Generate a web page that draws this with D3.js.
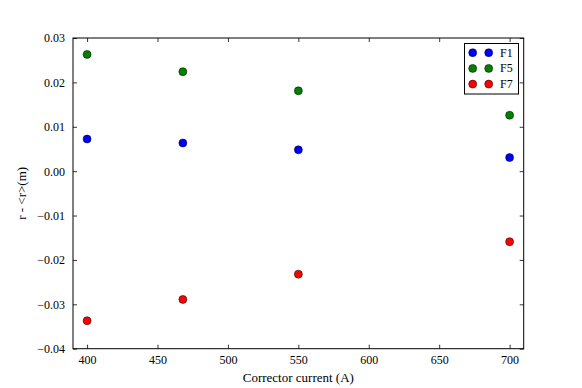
<!DOCTYPE html>
<html><head><meta charset="utf-8">
<script src="https://cdn.jsdelivr.net/npm/d3@7"></script>
<style>body{margin:0;background:#fff}</style>
</head><body><svg id="c" width="582" height="388"></svg>
<script>
const currents = [400, 468, 550, 700];
const seriesNames = ["F1", "F5", "F7"];
const seriesColors = ["#0000ff", "#008000", "#ff0000"];
const F1 = [0.00725, 0.00635, 0.00480, 0.00305];
const F5 = [0.0263, 0.0224, 0.0181, 0.0126];
const F7 = [-0.0337, -0.0289, -0.0232, -0.0159];
const xTicks = [400, 450, 500, 550, 600, 650, 700];
const yTicks = [-0.04, -0.03, -0.02, -0.01, 0.00, 0.01, 0.02, 0.03];
const seriesValues = [F1, F5, F7];

const FONT = "Liberation Serif, DejaVu Serif, serif";
const svg = d3.select("#c");
const L = 73, R = 523.7, T = 38, B = 348.7;
const x = d3.scaleLinear().domain([390, 710]).range([L, R]);
const y = d3.scaleLinear().domain([-0.04, 0.03]).range([B, T]);
const fmtY = v => { const s = Math.abs(v).toFixed(2); return (v < -1e-9 ? "\u2212" : "") + s; };

const g = svg.append("g");
function styleAxis(sel){
  sel.attr("font-family", FONT);
  sel.select(".domain").remove();
  sel.selectAll(".tick line").attr("stroke", "#000").attr("stroke-width", 0.8);
  sel.selectAll(".tick text").attr("font-size", 12).attr("fill", "#000").style("font-family", FONT);
}
g.append("g").attr("transform", `translate(0,${B})`)
  .call(d3.axisBottom(x).tickValues(xTicks).tickSize(-4).tickPadding(7).tickFormat(d3.format("d")))
  .call(styleAxis);
g.append("g").attr("transform", `translate(0,${T})`)
  .call(d3.axisTop(x).tickValues(xTicks).tickSize(-4).tickFormat(""))
  .call(styleAxis);
g.append("g").attr("transform", `translate(${L},0)`)
  .call(d3.axisLeft(y).tickValues(yTicks).tickSize(-4).tickPadding(8).tickFormat(fmtY))
  .call(styleAxis);
g.append("g").attr("transform", `translate(${R},0)`)
  .call(d3.axisRight(y).tickValues(yTicks).tickSize(-4).tickFormat(""))
  .call(styleAxis);

g.append("rect").attr("x", L).attr("y", T).attr("width", R - L).attr("height", B - T)
  .attr("fill", "none").attr("stroke", "#000").attr("stroke-width", 1);

seriesValues.forEach((vals, i) => {
  g.append("g").selectAll("circle").data(vals).join("circle")
    .attr("cx", (d, j) => x(currents[j])).attr("cy", d => y(d)).attr("r", 4)
    .attr("fill", seriesColors[i]).attr("stroke", "#000").attr("stroke-width", 0.5);
});

// legend
const lg = svg.append("g");
lg.append("rect").attr("x", 464.5).attr("y", 43.5).attr("width", 54).attr("height", 50.5)
  .attr("fill", "#fff").attr("stroke", "#000").attr("stroke-width", 1);
seriesNames.forEach((n, i) => {
  const yy = 52.7 + i * 15.7;
  [472.7, 488.7].forEach(cx => lg.append("circle").attr("cx", cx).attr("cy", yy).attr("r", 4)
    .attr("fill", seriesColors[i]).attr("stroke", "#000").attr("stroke-width", 0.5));
  lg.append("text").attr("x", 500).attr("y", yy + 4).attr("font-size", 12)
    .style("font-family", FONT).text(n);
});

svg.append("text").attr("x", (L + R) / 2).attr("y", 382).attr("text-anchor", "middle")
  .attr("font-size", 13).style("font-family", FONT).text("Corrector current (A)");
svg.append("text").attr("transform", `translate(26,${(T + B) / 2}) rotate(-90)`)
  .attr("text-anchor", "middle").attr("font-size", 13).style("font-family", FONT).text("r - <r>(m)");
</script></body></html>
